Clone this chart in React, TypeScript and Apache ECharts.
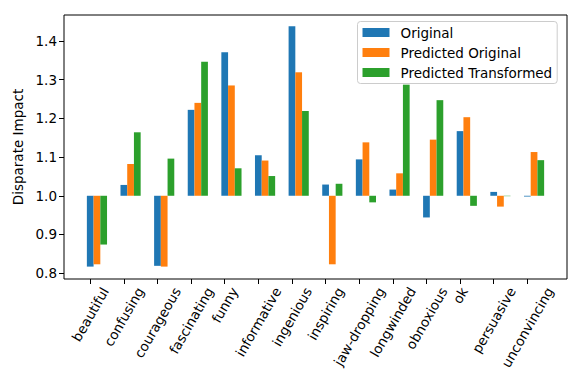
import React, { useEffect, useRef } from "react";
import * as echarts from "echarts";

const categories = [
  "beautiful", "confusing", "courageous", "fascinating", "funny", "informative",
  "ingenious", "inspiring", "jaw-dropping", "longwinded", "obnoxious", "ok",
  "persuasive", "unconvincing",
];
const original = [0.817, 1.028, 0.819, 1.222, 1.371, 1.105, 1.438, 1.029, 1.094, 1.016, 0.944, 1.167, 1.010, 0.998];
const predictedOriginal = [0.823, 1.082, 0.817, 1.240, 1.285, 1.091, 1.319, 0.823, 1.138, 1.058, 1.145, 1.203, 0.972, 1.113];
const predictedTransformed = [0.874, 1.164, 1.096, 1.346, 1.071, 1.051, 1.219, 1.031, 0.983, 1.287, 1.247, 0.974, 0.999, 1.092];
const seriesNames = ["Original", "Predicted Original", "Predicted Transformed"];
const seriesColors = ["#1f77b4", "#ff7f0e", "#2ca02c"];
const yTicks = [0.8, 0.9, 1.0, 1.1, 1.2, 1.3, 1.4];
const baseline = 1.0;

const FONT = "DejaVu Sans";
const FS = 13.5;

export default function App() {
  const ref = useRef<HTMLDivElement>(null);
  useEffect(() => {
    if (!ref.current) return;
    const chart = echarts.init(ref.current, undefined, { renderer: "svg" });

    const canvas = document.createElement("canvas");
    const ctx = canvas.getContext("2d")!;
    ctx.font = `${FS}px "${FONT}"`;
    const rich: Record<string, any> = {};
    const c = 5.5;
    const h = 15.5;
    categories.forEach((name, i) => {
      const L = ctx.measureText(name).width;
      const H = 0.866 * L + 0.5 * h;
      const d = c + H / 2;
      rich["l" + i] = {
        fontSize: FS,
        fontFamily: FONT,
        color: "#000",
        padding: [d, 1.732 * d, 0, 0],
      };
    });

    const allSeries = [original, predictedOriginal, predictedTransformed];
    const series = allSeries.map((vals, s) => {
      const off = s * 0.2;
      return {
        type: "custom",
        name: seriesNames[s],
        itemStyle: { color: seriesColors[s] },
        data: vals.map((v, i) => [i, v]),
        renderItem: (params: any, api: any) => {
          const x = api.value(0) + off;
          const v = api.value(1);
          const p0 = api.coord([x - 0.1, v]);
          const p1 = api.coord([x + 0.1, baseline]);
          return {
            type: "rect",
            shape: {
              x: p0[0],
              y: Math.min(p0[1], p1[1]),
              width: p1[0] - p0[0],
              height: Math.abs(p1[1] - p0[1]),
            },
            style: { fill: api.visual("color") },
          };
        },
      };
    });

    chart.setOption({
      animation: false,
      backgroundColor: "#fff",
      textStyle: { fontFamily: FONT },
      grid: {
        left: 64,
        top: 15,
        width: 503,
        height: 264,
        show: true,
        borderColor: "#000",
        borderWidth: 1,
        backgroundColor: "transparent",
      },
      legend: {
        orient: "vertical",
        left: 357.5,
        top: 21.5,
        padding: [3, 5, 3, 5],
        icon: "rect",
        itemWidth: 27,
        itemHeight: 9,
        itemGap: 4,
        backgroundColor: "rgba(255,255,255,0.8)",
        borderColor: "#cccccc",
        borderWidth: 1,
        borderRadius: 3,
        textStyle: { fontSize: FS, fontFamily: FONT, color: "#000", padding: [0, 0, 0, 6], lineHeight: 16 },
        data: seriesNames,
      },
      xAxis: {
        type: "value",
        min: -0.78,
        max: 14.18,
        splitLine: { show: false },
        axisLine: { show: false, onZero: false },
        axisTick: { show: true, length: 5, lineStyle: { color: "#000" }, customValues: categories.map((_, i) => i) },
        axisLabel: {
          customValues: categories.map((_, i) => i),
          rotate: 60,
          margin: 0,
          align: "center",
          verticalAlign: "middle",
          formatter: (v: number) => {
            const i = Math.round(v);
            return `{l${i}|${categories[i]}}`;
          },
          rich,
        },
      },
      yAxis: {
        type: "value",
        min: 0.785,
        max: 1.467,
        name: "Disparate Impact",
        nameLocation: "middle",
        nameGap: 36,
        nameTextStyle: { fontSize: FS, fontFamily: FONT, color: "#000" },
        splitLine: { show: false },
        axisLine: { show: false, onZero: false },
        axisTick: { show: true, length: 5, lineStyle: { color: "#000" }, customValues: yTicks },
        axisLabel: {
          customValues: yTicks,
          margin: 7,
          fontSize: FS,
          fontFamily: FONT,
          color: "#000",
          formatter: (v: number) => v.toFixed(1),
        },
      },
      series,
    });
    return () => chart.dispose();
  }, []);
  return (
    <div
      ref={ref}
      style={{ position: "fixed", left: 0, top: 0, width: 581, height: 388 }}
    />
  );
}
